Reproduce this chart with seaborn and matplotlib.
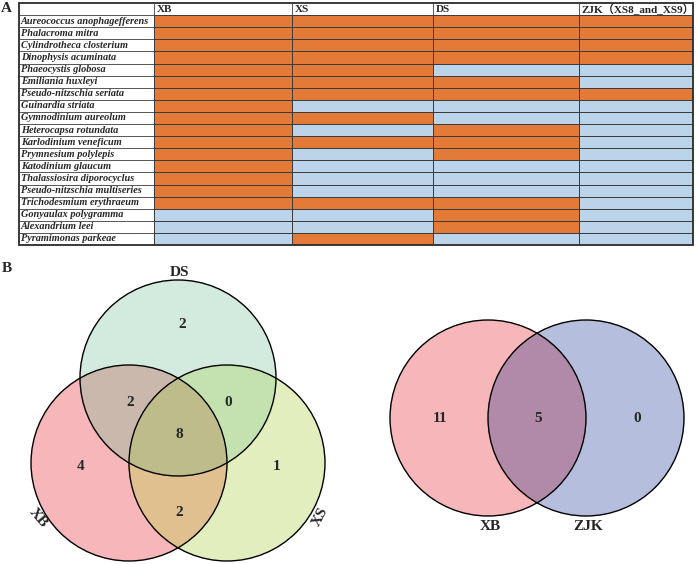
import numpy as np
import pandas as pd
import matplotlib
matplotlib.use("Agg")
import matplotlib.pyplot as plt
import seaborn as sns
from matplotlib.colors import ListedColormap
from matplotlib.patches import Circle, Rectangle, Polygon

# ---------------- data ----------------
species = [
    "Aureococcus anophagefferens", "Phalacroma mitra", "Cylindrotheca closterium",
    "Dinophysis acuminata", "Phaeocystis globosa", "Emiliania huxleyi",
    "Pseudo-nitzschia seriata", "Guinardia striata", "Gymnodinium aureolum",
    "Heterocapsa rotundata", "Karlodinium veneficum", "Prymnesium polylepis",
    "Katodinium glaucum", "Thalassiosira diporocyclus", "Pseudo-nitzschia multiseries",
    "Trichodesmium erythraeum", "Gonyaulax polygramma", "Alexandrium leei",
    "Pyramimonas parkeae",
]
columns = ["XB", "XS", "DS", "ZJK（XS8_and_XS9）"]
XB  = [1, 1, 1, 1, 1, 1, 1, 1, 1, 1, 1, 1, 1, 1, 1, 1, 0, 0, 0]
XS  = [1, 1, 1, 1, 1, 1, 1, 0, 1, 0, 1, 0, 0, 0, 0, 1, 0, 0, 1]
DS  = [1, 1, 1, 1, 0, 1, 1, 0, 0, 1, 1, 1, 0, 0, 0, 1, 1, 1, 0]
ZJK = [1, 1, 1, 1, 0, 0, 1, 0, 0, 0, 0, 0, 0, 0, 0, 0, 0, 0, 0]

venn3_sets = ["XB", "DS", "XS"]
# regions: XB only, DS only, XS only, XB&DS, XB&XS, DS&XS, all
venn3_counts = [4, 2, 1, 2, 2, 0, 8]
venn2_sets = ["XB", "ZJK"]
venn2_counts = [11, 5, 0]  # XB only, both, ZJK only

# ---------------- style ----------------
ORANGE = "#E47A37"
BLUE = "#BBD4EA"
GRID = "#3c3c3c"
SERIF = ["Liberation Serif", "Noto Sans CJK SC", "DejaVu Sans"]

sns.set_style("white")
plt.rcParams["font.family"] = SERIF

W, H = 696, 564
fig = plt.figure(figsize=(W / 100, H / 100), dpi=100)

df = pd.DataFrame({"XB": XB, "XS": XS, "DS": DS, "ZJK": ZJK}, index=species)

# table geometry in pixels
col_edges = [154, 292, 433, 579, 693]
tab_left, tab_top, tab_bottom = 19, 3, 245
n = len(species)
row_h = (tab_bottom - tab_top) / (n + 1)
head_bottom = tab_top + row_h

cmap = ListedColormap([BLUE, ORANGE])
for j, col in enumerate(df.columns):
    x0, x1 = col_edges[j], col_edges[j + 1]
    ax = fig.add_axes([x0 / W, 1 - tab_bottom / H, (x1 - x0) / W, (tab_bottom - head_bottom) / H])
    sns.heatmap(df[[col]], cmap=cmap, vmin=0, vmax=1, cbar=False,
                linewidths=0.6, linecolor=GRID, xticklabels=False,
                yticklabels=(species if j == 0 else False), ax=ax)
    ax.set_ylabel("")
    ax.set_xlabel("")
    if j == 0:
        ax.tick_params(axis="y", length=0, pad=(x0 - tab_left - 2) * 0.72)
        for lab in ax.get_yticklabels():
            lab.set_ha("left")
            lab.set_fontstyle("italic")
            lab.set_fontweight("bold")
            lab.set_fontsize(7.4)
            lab.set_family(SERIF)
            lab.set_rotation(0)
    ax.text(0.02, -0.5, columns[j], ha="left", va="center", fontsize=8,
            fontweight="bold", family=SERIF, clip_on=False)

# overlay axes in pixel coordinates
ov = fig.add_axes([0, 0, 1, 1])
ov.set_xlim(0, W)
ov.set_ylim(H, 0)
ov.axis("off")

# table frame and lines
ov.add_patch(Rectangle((tab_left, tab_top), col_edges[-1] - tab_left, tab_bottom - tab_top,
                       fill=False, ec="#2a2a2a", lw=1.3))
ov.plot([tab_left, col_edges[-1]], [head_bottom, head_bottom], color=GRID, lw=0.6)
for i in range(1, n):
    y = head_bottom + i * row_h
    ov.plot([tab_left, col_edges[0]], [y, y], color=GRID, lw=0.6)
for x in col_edges[:-1]:
    ov.plot([x, x], [tab_top, tab_bottom], color=GRID, lw=0.6)

ov.text(6, 9, "A", ha="center", va="center", fontsize=11, fontweight="bold")
ov.text(7, 268, "B", ha="center", va="center", fontsize=11, fontweight="bold")


def lens(ca, cb, r, k=240):
    """polygon of intersection of two equal circles (pixel coords)"""
    t = np.linspace(0, 2 * np.pi, k)
    pa = np.c_[ca[0] + r * np.cos(t), ca[1] + r * np.sin(t)]
    pb = np.c_[cb[0] + r * np.cos(t), cb[1] + r * np.sin(t)]
    pa = pa[np.hypot(pa[:, 0] - cb[0], pa[:, 1] - cb[1]) <= r]
    pb = pb[np.hypot(pb[:, 0] - ca[0], pb[:, 1] - ca[1]) <= r]
    pts = np.vstack([pa, pb])
    c = pts.mean(axis=0)
    order = np.argsort(np.arctan2(pts[:, 1] - c[1], pts[:, 0] - c[0]))
    return pts[order]


# ---------------- 3-set venn ----------------
r3 = 98
c3 = {"XB": (129, 463), "DS": (178, 378), "XS": (227, 463)}
single3 = {"XB": "#F7B6B9", "DS": "#D3EBDF", "XS": "#E3EEBF"}
pair3 = {("XB", "DS"): "#C9B8AB", ("XB", "XS"): "#DFC08E", ("DS", "XS"): "#C3E2B0"}
triple3 = "#BFBC8C"
for s in venn3_sets:
    ov.add_patch(Circle(c3[s], r3, fc=single3[s], ec="none"))
for (a, b), colr in pair3.items():
    ov.add_patch(Polygon(lens(c3[a], c3[b], r3), closed=True, fc=colr, ec="none"))
tri = Circle(c3["XB"], r3, fc=triple3, ec="none")
ov.add_patch(tri)
clip = Polygon(lens(c3["DS"], c3["XS"], r3), closed=True, transform=ov.transData)
tri.set_clip_path(clip)
for s in venn3_sets:
    ov.add_patch(Circle(c3[s], r3, fill=False, ec="black", lw=1.0))

pos3 = [(81, 467), (182, 325), (277, 467), (130, 403), (179, 513), (228, 403), (179, 434)]
for (x, y), v in zip(pos3, venn3_counts):
    ov.text(x, y, str(v), ha="center", va="center", fontsize=11, fontweight="bold")
ov.text(180, 273, venn3_sets[1], ha="center", va="center", fontsize=11, fontweight="bold")
ov.text(38, 518, venn3_sets[0], ha="center", va="center", fontsize=11, fontweight="bold",
        rotation=-50)
ov.text(320, 517, venn3_sets[2], ha="center", va="center", fontsize=11, fontweight="bold",
        rotation=62)

# ---------------- 2-set venn ----------------
r2 = 98
c2 = {"XB": (488, 418), "ZJK": (586, 418)}
single2 = {"XB": "#F7B6B9", "ZJK": "#B5BEDC"}
pair2 = "#B08AA8"
for s in venn2_sets:
    ov.add_patch(Circle(c2[s], r2, fc=single2[s], ec="none"))
ov.add_patch(Polygon(lens(c2["XB"], c2["ZJK"], r2), closed=True, fc=pair2, ec="none"))
for s in venn2_sets:
    ov.add_patch(Circle(c2[s], r2, fill=False, ec="black", lw=1.0))
pos2 = [(440, 418), (538, 418), (637, 418)]
for (x, y), v in zip(pos2, venn2_counts):
    ov.text(x, y, str(v), ha="center", va="center", fontsize=11, fontweight="bold")
ov.text(490, 526, venn2_sets[0], ha="center", va="center", fontsize=11, fontweight="bold")
ov.text(588, 526, venn2_sets[1], ha="center", va="center", fontsize=11, fontweight="bold")

fig.savefig("out.png", dpi=100)
